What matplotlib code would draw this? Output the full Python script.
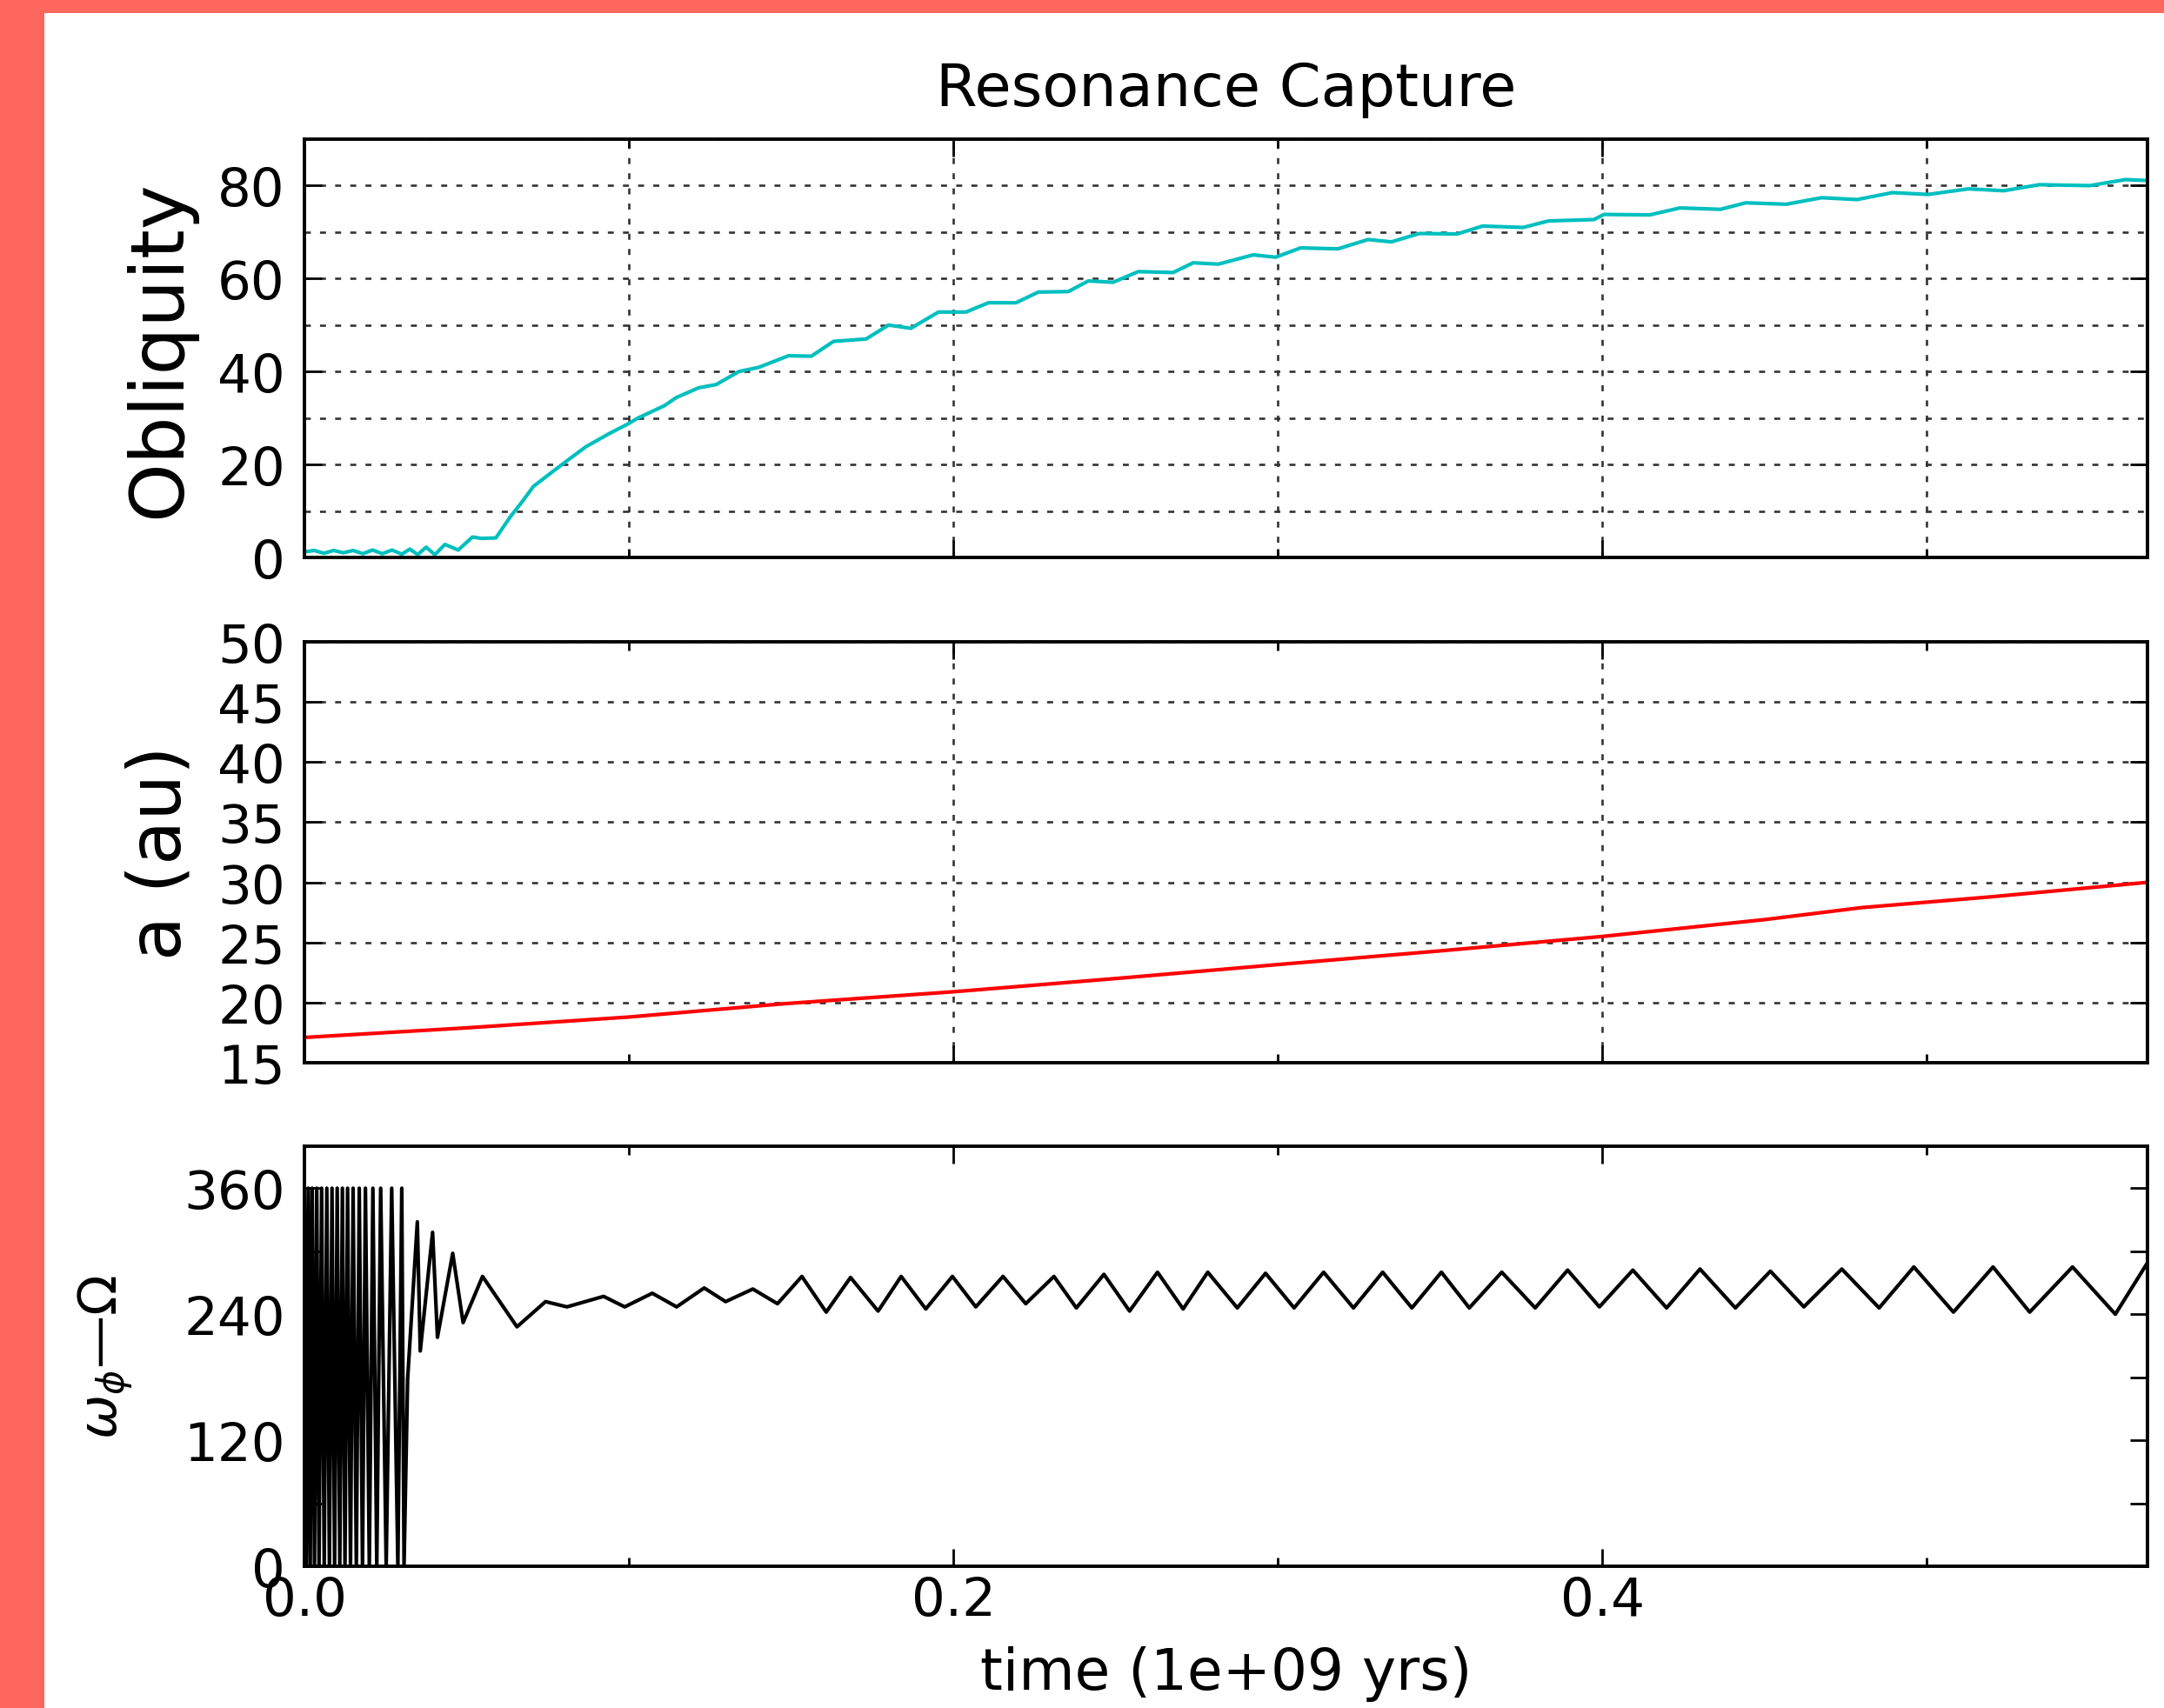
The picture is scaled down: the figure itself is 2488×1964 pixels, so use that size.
import matplotlib
matplotlib.use("Agg")
import matplotlib.pyplot as plt
from matplotlib.patches import Rectangle
from matplotlib.ticker import MultipleLocator

# obliquity (deg) vs time (1e9 yr)
obl_time = [0.0, 0.003, 0.006, 0.009, 0.012, 0.015, 0.018, 0.021, 0.024, 0.027,
            0.030, 0.0325, 0.0349, 0.0375, 0.0402, 0.0433, 0.0474, 0.0518, 0.0545, 0.0590,
            0.0635, 0.0670, 0.0706, 0.0760, 0.0813, 0.0867, 0.0938, 0.0999, 0.1028, 0.1108,
            0.1146, 0.1215, 0.1269, 0.1339, 0.1400, 0.1492, 0.1562, 0.1631, 0.1731, 0.1800,
            0.1869, 0.1954, 0.2039, 0.2108, 0.2193, 0.2262, 0.2354, 0.2416, 0.2492, 0.2570,
            0.2677, 0.2739, 0.2816, 0.2924, 0.2993, 0.3070, 0.3185, 0.3278, 0.3350, 0.3436,
            0.3553, 0.3631, 0.3756, 0.3834, 0.3974, 0.4005, 0.4146, 0.4239, 0.4364, 0.4442,
            0.4567, 0.4676, 0.4785, 0.4894, 0.5003, 0.5128, 0.5237, 0.5347, 0.5502, 0.5612,
            0.568]
obl_deg = [1.2, 1.5, 0.9, 1.5, 1.0, 1.5, 0.8, 1.6, 0.8, 1.6,
           0.7, 1.8, 0.6, 2.2, 0.6, 2.8, 1.6, 4.4, 4.1, 4.2,
           8.8, 11.9, 15.3, 18.2, 21.0, 23.8, 26.6, 28.8, 30.0, 32.6,
           34.4, 36.5, 37.2, 40.0, 40.9, 43.4, 43.3, 46.5, 47.0, 50.0,
           49.3, 52.8, 52.8, 54.8, 54.8, 57.1, 57.2, 59.5, 59.2, 61.5,
           61.3, 63.4, 63.1, 65.1, 64.6, 66.6, 66.4, 68.4, 67.9, 69.7,
           69.6, 71.3, 71.0, 72.4, 72.7, 73.8, 73.7, 75.2, 74.9, 76.3,
           76.0, 77.4, 77.0, 78.5, 78.1, 79.3, 78.9, 80.2, 80.0, 81.3,
           81.1]

# semi-major axis (au)
a_time = [0.0, 0.05, 0.1, 0.1475, 0.2, 0.25, 0.3016, 0.35, 0.4, 0.45, 0.48, 0.52, 0.568]
a_au = [17.1, 17.9, 18.8, 19.9, 20.9, 22.0, 23.2, 24.3, 25.5, 26.9, 27.9, 28.8, 30.0]

# resonance angle (deg): circulation first, then libration
ang_time = [0.0, 0.0006, 0.0012, 0.0018, 0.0024, 0.0031, 0.0038, 0.0045, 0.0053, 0.0061,
            0.0069, 0.0077, 0.0085, 0.0093, 0.0101, 0.0109, 0.0117, 0.0125, 0.0133, 0.0142,
            0.0150, 0.0160, 0.0169, 0.0179, 0.0188, 0.0200, 0.0211, 0.0223, 0.0235, 0.0252,
            0.0269, 0.0288, 0.0300, 0.0307,
            0.0318, 0.0348, 0.0357, 0.0395, 0.0410, 0.0457, 0.0489, 0.0549, 0.0655, 0.0743,
            0.0809, 0.0922, 0.0987, 0.1072, 0.1147, 0.1232, 0.1298, 0.1382, 0.1458, 0.1533,
            0.1608, 0.1683, 0.1768, 0.1839, 0.1915, 0.1997, 0.2069, 0.2153, 0.2223, 0.2310,
            0.2379, 0.2464, 0.2543, 0.2629, 0.2708, 0.2784, 0.2875, 0.2962, 0.3050, 0.3141,
            0.3233, 0.3323, 0.3413, 0.3504, 0.3590, 0.3690, 0.3793, 0.3893, 0.3991, 0.4094,
            0.4198, 0.4301, 0.4410, 0.4518, 0.4621, 0.4738, 0.4853, 0.4960, 0.5082, 0.5204,
            0.5317, 0.5449, 0.5581, 0.568]
ang_deg = [360, 0, 360, 0, 360, 0, 360, 0, 360, 0,
           360, 0, 360, 0, 360, 0, 360, 0, 360, 0,
           360, 0, 360, 0, 360, 0, 360, 0, 360, 0,
           360, 0, 360, 0,
           178, 328, 205, 318, 218, 298, 232, 276, 228, 252,
           247, 257, 247, 260, 247, 265, 252, 264, 250, 276,
           242, 275, 243, 276, 245, 276, 247, 276, 250, 276,
           246, 278, 243, 280, 245, 280, 246, 279, 246, 280,
           246, 280, 246, 280, 246, 280, 246, 282, 247, 282,
           246, 283, 246, 281, 247, 283, 246, 285, 242, 285,
           242, 285, 240, 289]

plt.rcParams['font.family'] = ['DejaVu Sans']
plt.rcParams['mathtext.fontset'] = 'dejavusans'

W, H = 2488, 1965
fig = plt.figure(figsize=(W / 100, H / 100), dpi=100)
fig.patch.set_facecolor('white')

left, width = 350 / W, 2119 / W
ax1 = fig.add_axes([left, 1 - 642 / H, width, 481 / H])
ax2 = fig.add_axes([left, 1 - 1223 / H, width, 484 / H], sharex=ax1)
ax3 = fig.add_axes([left, 1 - 1802 / H, width, 483 / H], sharex=ax1)

grid_kw = dict(color='0.2', linestyle=(0, (2.6, 4.0)), linewidth=1.9)

for ax in (ax1, ax2, ax3):
    ax.set_xlim(0, 0.568)
    ax.xaxis.set_major_locator(MultipleLocator(0.2))
    ax.xaxis.set_minor_locator(MultipleLocator(0.1))
    ax.tick_params(which='both', direction='in', top=True, right=True,
                   width=2, color='k', labelsize=44)
    ax.tick_params(which='major', length=14.4)
    ax.tick_params(which='minor', length=7.2)
    ax.tick_params(axis='y', pad=16)
    ax.tick_params(axis='x', pad=7)
    for s in ax.spines.values():
        s.set_linewidth(2.8)

# top: obliquity
ax1.plot(obl_time, obl_deg, color='c', linewidth=3.0)
ax1.set_ylim(0, 90)
ax1.yaxis.set_major_locator(MultipleLocator(20))
ax1.yaxis.set_minor_locator(MultipleLocator(10))
ax1.tick_params(axis='y', which='minor', length=0)
ax1.grid(True, which='both', **grid_kw)
ax1.set_ylabel('Obliquity', fontsize=62)
ax1.yaxis.set_label_coords(-0.059, 0.5)
ax1.set_title('Resonance Capture', fontsize=49.3, pad=28)
ax1.tick_params(labelbottom=False)

# middle: semi-major axis
ax2.plot(a_time, a_au, color='r', linewidth=3.0)
ax2.set_ylim(15, 50)
ax2.yaxis.set_major_locator(MultipleLocator(5))
ax2.grid(True, which='major', **grid_kw)
ax2.set_ylabel('a (au)', fontsize=60)
ax2.yaxis.set_label_coords(-0.059, 0.5)
ax2.tick_params(labelbottom=False)

# bottom: resonance angle
ax3.plot(ang_time, ang_deg, color='k', linewidth=3.0)
ax3.set_ylim(0, 400)
ax3.set_yticks([0, 60, 120, 180, 240, 300, 360])
ax3.set_yticklabels(['0', '', '120', '', '240', '', '360'])
ax3.set_ylabel(r'$\omega_\phi$—$\Omega$', fontsize=44)
ax3.yaxis.set_label_coords(-0.092, 0.5)
ax3.set_xlabel('time (1e+09 yrs)', fontsize=47.5, labelpad=16)

# red frame of the screenshot
fig.patches.append(Rectangle((0, 0), 51 / W, 1, transform=fig.transFigure,
                             facecolor='#fe675e', edgecolor='none', zorder=10))
fig.patches.append(Rectangle((0, 1 - 16 / H), 1, 16 / H, transform=fig.transFigure,
                             facecolor='#fe675e', edgecolor='none', zorder=10))

fig.savefig('out.png', dpi=100)
